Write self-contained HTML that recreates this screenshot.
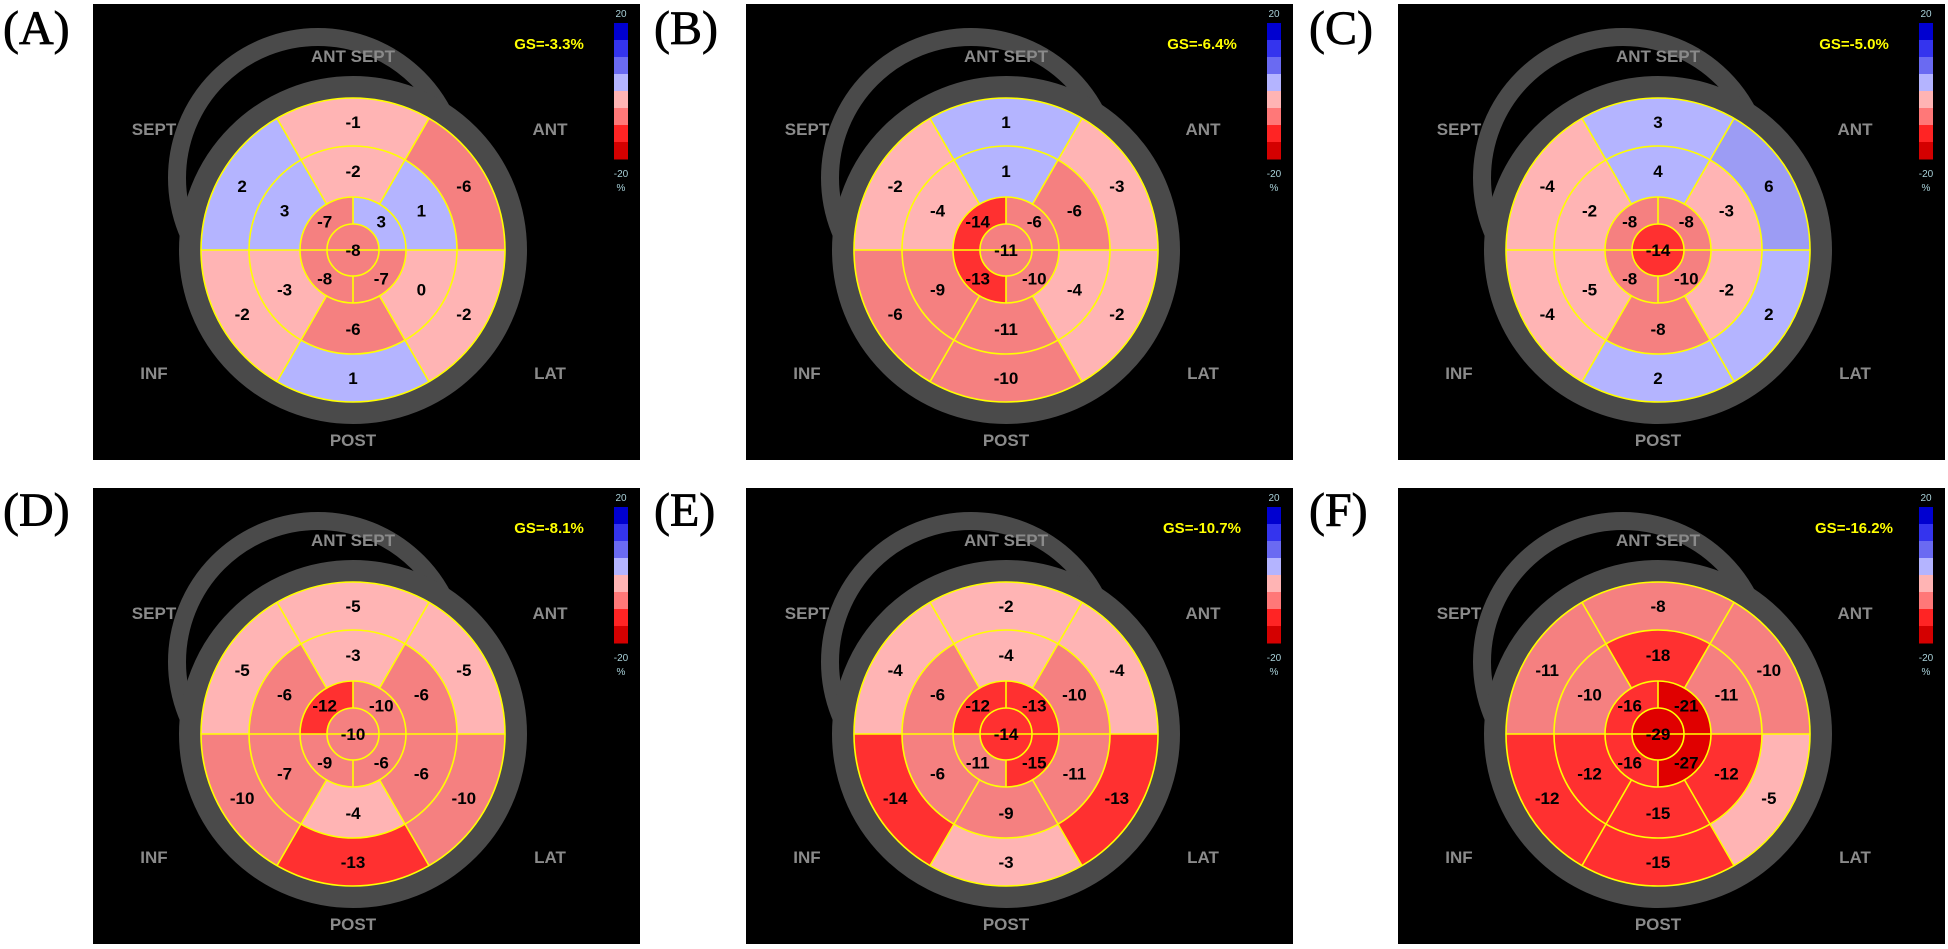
<!DOCTYPE html>
<html><head><meta charset="utf-8"><style>
html,body{margin:0;padding:0;background:#fff;width:1948px;height:949px;overflow:hidden}
svg{position:absolute;left:0;top:0}
</style></head><body>
<svg id="fig" width="1948" height="949" xmlns="http://www.w3.org/2000/svg"></svg>
<script>
const panelLetters = ["(A)","(B)","(C)","(D)","(E)","(F)"];
const globalStrain = ["GS=-3.3%","GS=-6.4%","GS=-5.0%","GS=-8.1%","GS=-10.7%","GS=-16.2%"];
// basal ring: top, upper-right, lower-right, bottom, lower-left, upper-left
const basalValues = [[-1,-6,-2,1,-2,2],[1,-3,-2,-10,-6,-2],[3,6,2,2,-4,-4],[-5,-5,-10,-13,-10,-5],[-2,-4,-13,-3,-14,-4],[-8,-10,-5,-15,-12,-11]];
const midValues = [[-2,1,0,-6,-3,3],[1,-6,-4,-11,-9,-4],[4,-3,-2,-8,-5,-2],[-3,-6,-6,-4,-7,-6],[-4,-10,-11,-9,-6,-6],[-18,-11,-12,-15,-12,-10]];
// apical: upper-left, upper-right, lower-right, lower-left
const apicalValues = [[-7,3,-7,-8],[-14,-6,-10,-13],[-8,-8,-10,-8],[-12,-10,-6,-9],[-12,-13,-15,-11],[-16,-21,-27,-16]];
const apexValues = [-8,-11,-14,-10,-14,-29];
const colorbarColors = ["#0000d0","#3434ee","#6a6af2","#b4b4ff","#ffb4b4","#ff7878","#ff2424","#d40000"];

const NS="http://www.w3.org/2000/svg";
const svg=document.getElementById('fig');
function mk(tag,attrs,parent){const e=document.createElementNS(NS,tag);for(const k in attrs)e.setAttribute(k,attrs[k]);(parent||svg).appendChild(e);return e;}
function col(v){if(v>=5)return "#9c9cf4";if(v>0)return "#b4b4ff";if(v>=-5)return "#ffb4b4";if(v>=-11)return "#f58080";if(v>=-19)return "#ff3030";return "#e00000";}
const origins=[[93,4],[746,4],[1398,4],[93,488],[746,488],[1398,488]];
const labelX=[3,654,1309];
const R=[26,53,104,152];
function pol(cx,cy,r,a){const t=a*Math.PI/180;return [cx+r*Math.cos(t),cy-r*Math.sin(t)];}
function wedge(cx,cy,r0,r1,a0,a1){
  const p1=pol(cx,cy,r1,a0),p2=pol(cx,cy,r1,a1),p3=pol(cx,cy,r0,a1),p4=pol(cx,cy,r0,a0);
  const lg=(a1-a0)>180?1:0;
  return `M${p1[0]},${p1[1]} A${r1},${r1} 0 ${lg} 0 ${p2[0]},${p2[1]} L${p3[0]},${p3[1]} A${r0},${r0} 0 ${lg} 1 ${p4[0]},${p4[1]} Z`;
}
const sixCenters=[90,30,-30,-90,-150,150];
const fourCenters=[135,45,-45,-135];
for(let i=0;i<6;i++){
  const [ox,oy]=origins[i];
  const g=mk('g',{});
  
  
  const lbl=mk('text',{x:labelX[i%3],y:oy+(i<3?40:38),'font-family':'"Liberation Serif",serif','font-size':48,fill:'#000',stroke:'#000','stroke-width':0.8},g);
  lbl.textContent=panelLetters[i];
  
  
  const bg=mk('rect',{x:ox,y:oy,width:547,height:456,fill:'#000'},g);
  
  
  const cx=ox+260,cy=oy+246;
  const r1=mk('circle',{cx:cx-35,cy:cy-72,r:141,fill:'none',stroke:'#4a4a4a','stroke-width':18},g);
  
  
  const r2=mk('circle',{cx:cx,cy:cy,r:163,fill:'none',stroke:'#4a4a4a','stroke-width':22},g);
  
  
  const tc='#8a8a8a';
  const labs=[["ANT  SEPT",cx,oy+58],["SEPT",ox+61,oy+131],["ANT",ox+457,oy+131],["INF",ox+61,oy+375],["LAT",ox+457,oy+375],["POST",cx,oy+442]];
  labs.forEach(l=>{const t=mk('text',{x:l[1],y:l[2],'text-anchor':'middle','font-family':'"Liberation Sans",sans-serif','font-size':17,'font-weight':'bold',fill:tc,'xml:space':'preserve'},g);t.textContent=l[0];
    
    });
  const gs=mk('text',{x:ox+456,y:oy+45,'text-anchor':'middle','font-family':'"Liberation Sans",sans-serif','font-size':15,'font-weight':'bold',fill:'#ffff00'},g);
  gs.textContent=globalStrain[i];
  
  
  colorbarColors.forEach((c,k)=>{const b=mk('rect',{x:ox+521,y:oy+19+k*17,width:14,height:17.5,fill:c},g);
    
    });
  [["20",oy+13],["-20",oy+173],["%",oy+187]].forEach(a=>{const t=mk('text',{x:ox+528,y:a[1],'text-anchor':'middle','font-family':'"Liberation Sans",sans-serif','font-size':10,fill:'#a8d0d8'},g);t.textContent=a[0];
    
    });
  const txt=[];
  sixCenters.forEach((a,k)=>{
    const s1=mk('path',{d:wedge(cx,cy,R[2],R[3],a-30,a+30),fill:col(basalValues[i][k])},g);
    
    
    const s2=mk('path',{d:wedge(cx,cy,R[1],R[2],a-30,a+30),fill:col(midValues[i][k])},g);
    
    
    txt.push([pol(cx,cy,128,a),basalValues[i][k]]);
    txt.push([pol(cx,cy,79,a),midValues[i][k]]);
  });
  fourCenters.forEach((a,k)=>{
    const s=mk('path',{d:wedge(cx,cy,R[0],R[1],a-45,a+45),fill:col(apicalValues[i][k])},g);
    
    
    txt.push([pol(cx,cy,40,a),apicalValues[i][k]]);
  });
  const ap=mk('circle',{cx:cx,cy:cy,r:R[0],fill:col(apexValues[i])},g);
  
  
  txt.push([[cx,cy],apexValues[i]]);
  R.forEach(r=>{const c=mk('circle',{cx:cx,cy:cy,r:r,fill:'none',stroke:'#ffff00','stroke-width':1.6},g);
    
    });
  [0,60,120,180,240,300].forEach(a=>{const p=pol(cx,cy,a%180===0?R[0]:R[1],a),q=pol(cx,cy,R[3],a);
    const l=mk('line',{x1:p[0],y1:p[1],x2:q[0],y2:q[1],stroke:'#ffff00','stroke-width':1.6},g);
    
    });
  [90,270].forEach(a=>{const p=pol(cx,cy,R[0],a),q=pol(cx,cy,R[1],a);
    const l=mk('line',{x1:p[0],y1:p[1],x2:q[0],y2:q[1],stroke:'#ffff00','stroke-width':1.6},g);
    
    });
  const hl=mk('line',{x1:cx-R[0],y1:cy,x2:cx+R[0],y2:cy,stroke:'#ffff00','stroke-width':1.6},g);
  
  
  txt.forEach(t=>{const e=mk('text',{x:t[0][0],y:t[0][1]+6,'text-anchor':'middle','font-family':'"Liberation Sans",sans-serif','font-size':17,'font-weight':'bold',fill:'#000'},g);
    e.textContent=String(t[1]);
    
    });
}
</script>
</body></html>
